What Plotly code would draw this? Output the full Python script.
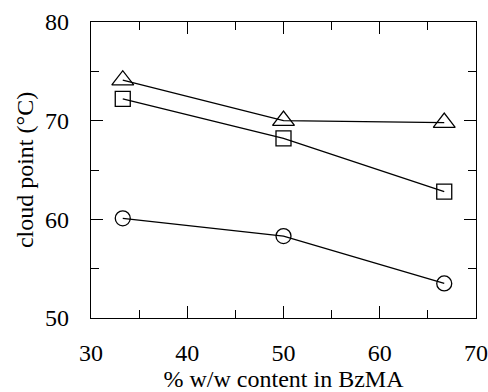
import plotly.graph_objects as go

x = [33.3, 50.0, 66.7]
triangle_vals = [74.1, 70.0, 69.8]
square_vals = [72.2, 68.2, 62.8]
circle_vals = [60.1, 58.3, 53.5]
x_ticks = [30, 40, 50, 60, 70]
y_ticks = [50, 60, 70, 80]

fig = go.Figure()
for vals, sym, sz in [(triangle_vals, "triangle-up-open", 19), (square_vals, "square-open", 15), (circle_vals, "circle-open", 15)]:
    fig.add_trace(go.Scatter(
        x=x, y=vals, mode="lines+markers",
        line=dict(color="black", width=1.3),
        marker=dict(symbol=sym, size=sz, color="black", line=dict(width=1.3, color="black")),
        showlegend=False, cliponaxis=False,
    ))

font = dict(family="Liberation Serif, Times New Roman, serif", size=24, color="black")
axis_common = dict(
    showgrid=False, zeroline=False, showline=True, linecolor="black", linewidth=1.3,
    mirror="allticks", ticks="inside", ticklen=12, tickwidth=1.3, tickcolor="black",
    tickfont=font, automargin=False,
)
fig.update_xaxes(range=[30, 70], tickvals=x_ticks,
                 minor=dict(dtick=5, ticks="inside", ticklen=8, tickwidth=1.3, tickcolor="black"),
                 title=dict(text="% w/w content in BzMA", font=font, standoff=8),
                 ticklabelstandoff=13, **axis_common)
fig.update_yaxes(range=[50, 80], tickvals=y_ticks,
                 minor=dict(dtick=5, ticks="inside", ticklen=8, tickwidth=1.3, tickcolor="black"),
                 title=dict(text="cloud point (°C)", font=font, standoff=4),
                 ticklabelstandoff=16, **axis_common)
fig.update_layout(
    width=488, height=392, margin=dict(l=91, r=12, t=22, b=74),
    paper_bgcolor="white", plot_bgcolor="white", font=font,
)
fig.write_html("out.html")
